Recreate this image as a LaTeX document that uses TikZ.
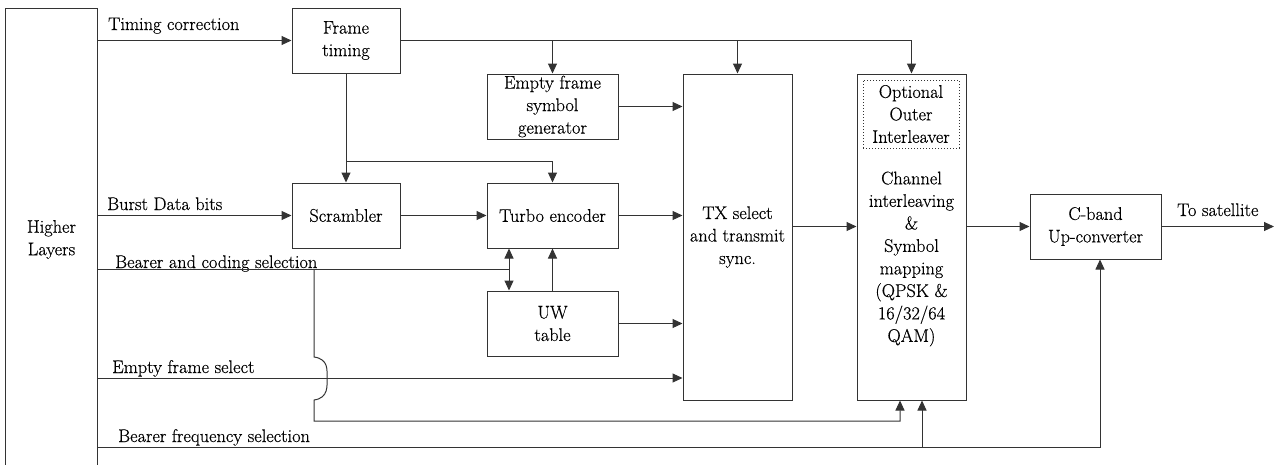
\documentclass[tikz,border=0pt]{standalone}
\usepackage{fontspec}
\newfontfamily\dserif{Latin Modern Roman}[FakeBold=0.45]
\usetikzlibrary{arrows.meta,calc}
\newcommand{\dfont}{\dserif\fontsize{18.3}{22.5}\selectfont}
\definecolor{ln}{gray}{0.2}
\begin{document}
\begin{tikzpicture}[x=1pt,y=-1pt,
  box/.style={draw=ln, line width=1pt, align=center, inner sep=0pt, font=\dfont},
  lbl/.style={anchor=base west, inner sep=0pt, font=\dfont},
  conn/.style={draw=ln, line width=1pt, -{Triangle[length=10pt,width=9pt]}},
  dconn/.style={draw=ln, line width=1pt, {Triangle[length=10pt,width=9pt]}-{Triangle[length=10pt,width=9pt]}},
  plain/.style={draw=ln, line width=1pt}]
\useasboundingbox (0,0) rectangle (1276,464);
% blocks
\node[box, minimum width=92pt, minimum height=462pt, anchor=north west] (HL) at (5,8) {Higher\\Layers};
\node[box, minimum width=108pt, minimum height=65pt] (FT) at (346,40.5) {Frame\\timing};
\node[box, minimum width=131pt, minimum height=65pt] (EF) at (552.5,106.5) {Empty frame\\symbol\\generator};
\node[box, minimum width=108pt, minimum height=65pt] (SC) at (346,215.5) {Scrambler};
\node[box, minimum width=131pt, minimum height=65pt] (TE) at (552.5,215.5) {Turbo encoder};
\node[box, minimum width=131pt, minimum height=65pt] (UW) at (552.5,323.5) {UW\\table};
\node[box, minimum width=109pt, minimum height=326pt] (TX) at (737.5,237) {TX select\\and transmit\\sync.};
\node[box, minimum width=109pt, minimum height=326pt] (CH) at (911.5,237) {};
\node[box, dotted, minimum width=96pt, minimum height=68pt] (OI) at (911,114) {Optional\\Outer\\Interleaver};
\node[align=center, inner sep=0pt, font=\dfont] (CHT) at (911.5,259) {Channel\\interleaving\\\&\\Symbol\\mapping\\(QPSK \&\\16/32/64\\QAM)};
\node[box, minimum width=131pt, minimum height=65pt] (CB) at (1095.5,226.5) {C-band\\Up-converter};
% labels
\node[lbl] (l1) at (108,30) {Timing correction};
\node[lbl] (l2) at (107,210) {Burst Data bits};
\node[lbl] (l3) at (115,268) {Bearer and coding selection};
\node[lbl] (l4) at (112,373) {Empty frame select};
\node[lbl] (l5) at (118,442) {Bearer frequency selection};
\node[lbl] (l6) at (1177,216) {To satellite};
% coordinates
\coordinate (j1) at (346,161);
\coordinate (bc) at (509,269);
\coordinate (h0) at (314,269);
\coordinate (efs) at (0,378);
\coordinate (bf) at (0,447);
\coordinate (sat) at (1274,226.5);
% connectors
\draw[conn] (HL.east |- FT.west) -- (FT.west);
\draw[conn] (FT.east) -| (CH.north);
\draw[conn] (FT.east -| EF.north) -- (EF.north);
\draw[conn] (FT.east -| TX.north) -- (TX.north);
\draw[conn] (FT.south) -- (SC.north);
\draw[conn] (j1) -| (TE.north);
\draw[conn] (HL.east |- SC.west) -- (SC.west);
\draw[conn] (SC.east) -- (TE.west);
\draw[conn] (TE.east) -- (TE.east -| TX.west);
\draw[conn] (EF.east) -- (EF.east -| TX.west);
\draw[conn] (UW.east) -- (UW.east -| TX.west);
\draw[plain] (HL.east |- bc) -- (bc);
\draw[dconn] (bc |- TE.south) -- (bc |- UW.north);
\draw[conn] (UW.north) -- (TE.south);
\draw[conn] (h0) -- (314,357) .. controls (329,359) and (327,371) .. (327,378) .. controls (327,385) and (329,398) .. (314,400) -- (314,421) -| ([xshift=-11.5pt]CH.south);
\draw[conn] (HL.east |- efs) -- (TX.west |- efs);
\draw[conn] (HL.east |- bf) -| ([xshift=4.5pt]CB.south);
\draw[conn] ([xshift=10.5pt]CH.south |- bf) -- ([xshift=10.5pt]CH.south);
\draw[conn] (TX.east |- CB.west) -- (CH.west |- CB.west);
\draw[conn] (CH.east |- CB.west) -- (CB.west);
\draw[conn] (CB.east) -- (sat);
\end{tikzpicture}
\end{document}
